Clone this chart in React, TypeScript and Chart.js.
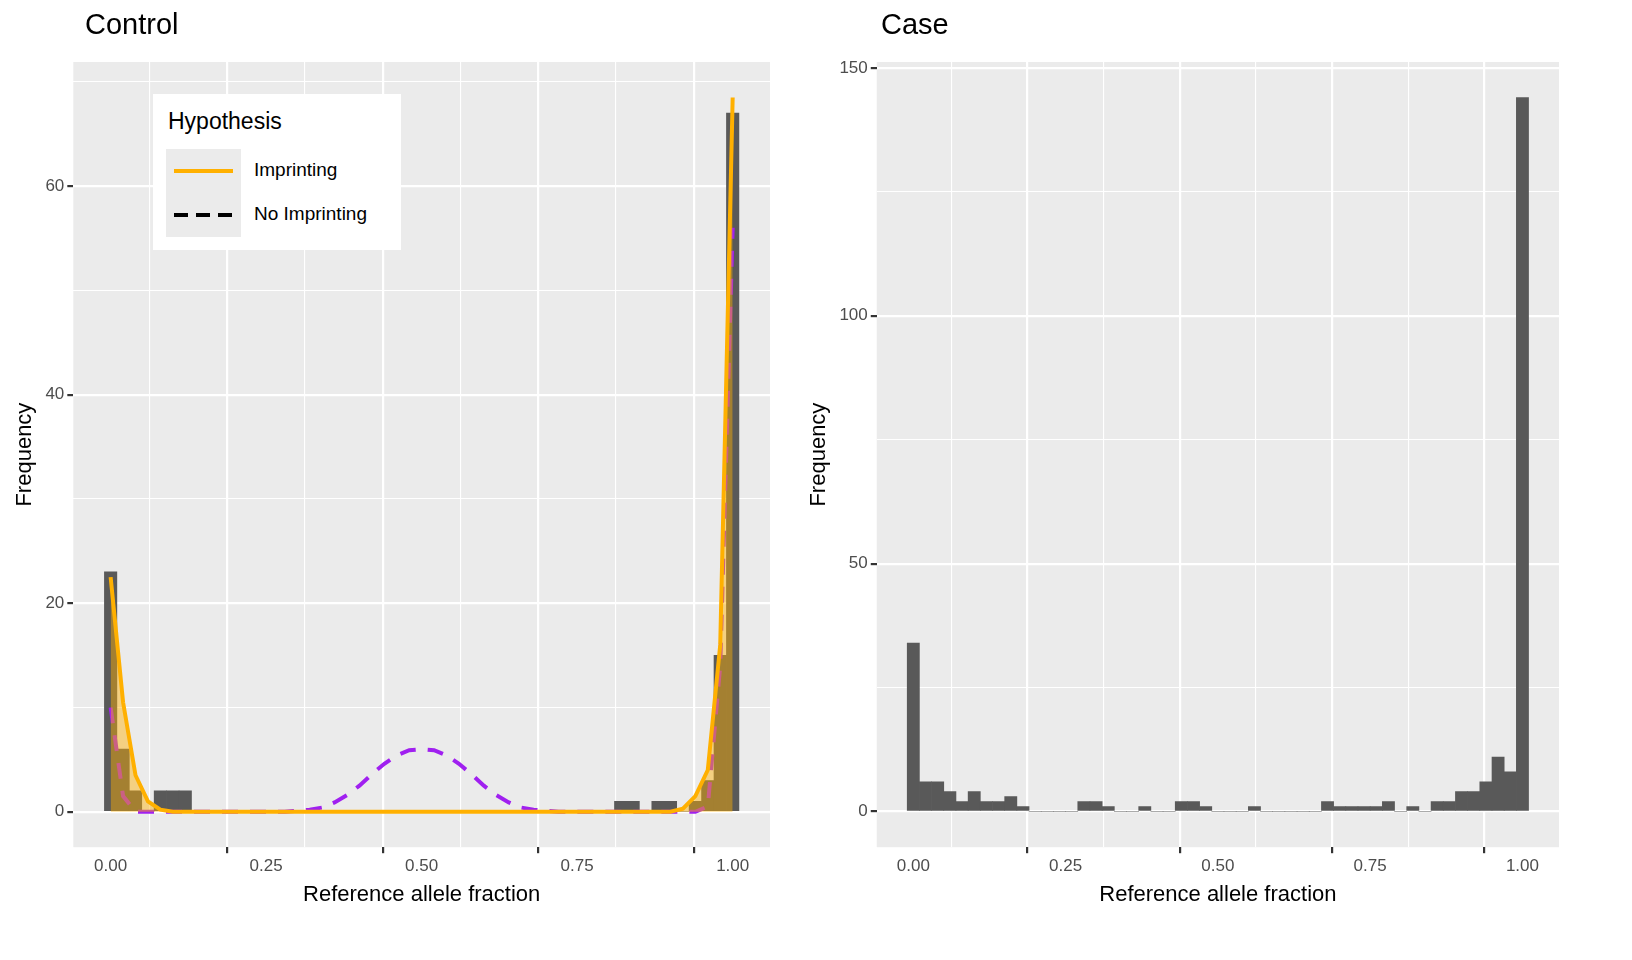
import React, { useEffect, useRef } from 'react';
import { Chart, registerables } from 'chart.js';

Chart.register(...registerables);

// bin centres, width 0.02
const bins: number[] = Array.from({ length: 51 }, (_, i) => Math.round(i * 2) / 100);

const controlCounts = [
  23, 6, 2, 0, 2, 2, 2, 0, 0, 0, 0, 0, 0, 0, 0, 0, 0, 0, 0, 0,
  0, 0, 0, 0, 0, 0, 0, 0, 0, 0, 0, 0, 0, 0, 0, 0, 0, 0, 0, 0,
  0, 1, 1, 0, 1, 1, 0, 1, 3, 15, 67,
];

const caseCounts = [
  34, 6, 6, 4, 2, 4, 2, 2, 3, 1, 0, 0, 0, 0, 2, 2, 1, 0, 0, 1,
  0, 0, 2, 2, 1, 0, 0, 0, 1, 0, 0, 0, 0, 0, 2, 1, 1, 1, 1, 2,
  0, 1, 0, 2, 2, 4, 4, 6, 11, 8, 144,
];

const imprinting = [
  22.5, 10.5, 3.5, 1, 0.2, 0, 0, 0, 0, 0, 0, 0, 0, 0, 0, 0, 0, 0, 0, 0,
  0, 0, 0, 0, 0, 0, 0, 0, 0, 0, 0, 0, 0, 0, 0, 0, 0, 0, 0, 0,
  0, 0, 0, 0, 0, 0, 0.3, 1.5, 4, 16, 68.5,
];

const noImprinting = [
  10, 1.5, 0, 0, 0, 0, 0, 0, 0, 0, 0, 0, 0, 0, 0, 0.1, 0.2, 0.4, 0.9, 1.6,
  2.5, 3.6, 4.6, 5.4, 5.9, 6, 5.9, 5.4, 4.6, 3.6, 2.5, 1.6, 0.9, 0.4, 0.2, 0.1,
  0, 0, 0, 0, 0, 0, 0, 0, 0, 0, 0, 0, 0.5, 14, 56,
];

const xTicks = ['0.00', '0.25', '0.50', '0.75', '1.00'];

const FONT = 'Arial, "Liberation Sans", sans-serif';
const pts = (ys: number[]) => bins.map((x, i) => ({ x, y: ys[i] }));

const bgPlugin = {
  id: 'panelBg',
  beforeDraw(chart: Chart) {
    const { ctx, chartArea: a } = chart;
    ctx.save();
    ctx.fillStyle = '#EBEBEB';
    ctx.fillRect(a.left, a.top, a.right - a.left, a.bottom - a.top);
    ctx.restore();
  },
};

function makeOptions(yMin: number, yMax: number, yStep: number, major: number) {
  const isMajorX = (v: any) => typeof v === 'number' && Math.abs(v * 4 - Math.round(v * 4)) < 1e-6;
  const isMajorY = (v: any) => typeof v === 'number' && Math.abs(v / major - Math.round(v / major)) < 1e-6;
  const tv = (c: any) => (c && c.tick ? c.tick.value : undefined);
  return {
    animation: false,
    responsive: false,
    layout: { padding: { top: 62, right: 10, left: 8, bottom: 8 } },
    plugins: { legend: { display: false }, tooltip: { enabled: false } },
    scales: {
      x: {
        type: 'linear',
        min: -0.06,
        max: 1.06,
        offset: false,
        afterBuildTicks: (s: any) => {
          s.ticks = [0, 0.125, 0.25, 0.375, 0.5, 0.625, 0.75, 0.875, 1].map((v) => ({ value: v }));
        },
        ticks: {
          autoSkip: false,
          maxRotation: 0,
          color: '#4D4D4D',
          font: { family: FONT, size: 17 },
          callback: (v: number) => (isMajorX(v) ? xTicks[Math.round(v * 4)] : ''),
        },
        grid: {
          color: '#FFFFFF',
          lineWidth: (c: any) => (isMajorX(tv(c)) ? 2.2 : 1.1),
          tickColor: (c: any) => (isMajorX(tv(c)) ? '#333333' : 'rgba(0,0,0,0)'),
          tickLength: 6,
        },
        border: { display: false },
        title: { display: true, text: 'Reference allele fraction', color: '#000', font: { family: FONT, size: 22 }, padding: { top: 2 } },
      },
      y: {
        type: 'linear',
        min: yMin,
        max: yMax,
        afterBuildTicks: (s: any) => {
          const t = [];
          for (let v = 0; v <= yMax; v += yStep) t.push({ value: v });
          s.ticks = t;
        },
        ticks: {
          autoSkip: false,
          color: '#4D4D4D',
          font: { family: FONT, size: 17 },
          callback: (v: number) => (isMajorY(v) ? String(v) : ''),
        },
        grid: {
          color: '#FFFFFF',
          lineWidth: (c: any) => (isMajorY(tv(c)) ? 2.2 : 1.1),
          tickColor: (c: any) => (isMajorY(tv(c)) ? '#333333' : 'rgba(0,0,0,0)'),
          tickLength: 6,
        },
        border: { display: false },
        title: { display: true, text: 'Frequency', color: '#000', font: { family: FONT, size: 22 } },
      },
    },
  } as any;
}

const Panel: React.FC<{ title: string; control: boolean; width: number; left: number }> = ({ title, control, width, left }) => {
  const ref = useRef<HTMLCanvasElement | null>(null);
  useEffect(() => {
    if (!ref.current) return;
    const datasets: any[] = [
      {
        type: 'bar',
        data: pts(control ? controlCounts : caseCounts),
        backgroundColor: '#595959',
        barPercentage: 1,
        categoryPercentage: 1,
        order: 3,
      },
    ];
    if (control) {
      datasets.push(
        {
          type: 'line',
          data: pts(imprinting),
          borderColor: '#FFB000',
          backgroundColor: 'rgba(255,176,0,0.45)',
          fill: 'origin',
          borderWidth: 4,
          pointRadius: 0,
          tension: 0,
          order: 1,
        },
        {
          type: 'line',
          data: pts(noImprinting),
          borderColor: '#A020F0',
          borderDash: [16, 12],
          fill: false,
          borderWidth: 4,
          pointRadius: 0,
          tension: 0,
          order: 2,
        },
      );
    }
    const chart = new Chart(ref.current, {
      type: 'bar',
      data: { datasets },
      options: control ? makeOptions(-3.4, 71.9, 10, 20) : makeOptions(-7.2, 151.2, 25, 50),
      plugins: [bgPlugin],
    } as any);
    return () => chart.destroy();
  }, [control]);
  return (
    <div style={{ position: 'absolute', left, top: 0, width, height: 920 }}>
      <canvas ref={ref} width={width} height={920} style={{ width, height: 920 }} />
      <div style={{ position: 'absolute', left: control ? 85 : 87, top: 8, fontFamily: FONT, fontSize: 29 }}>{title}</div>
      {control && (
        <div style={{ position: 'absolute', left: 153, top: 94, width: 248, height: 156, background: '#fff', fontFamily: FONT }}>
          <div style={{ position: 'absolute', left: 15, top: 14, fontSize: 23 }}>Hypothesis</div>
          <div style={{ position: 'absolute', left: 13, top: 55, width: 75, height: 88, background: '#EBEBEB' }} />
          <svg style={{ position: 'absolute', left: 13, top: 55 }} width={75} height={88}>
            <line x1={8} x2={67} y1={22} y2={22} stroke="#FFB000" strokeWidth={4} />
            <line x1={8} x2={67} y1={66} y2={66} stroke="#000" strokeWidth={4} strokeDasharray="14 8" />
          </svg>
          <div style={{ position: 'absolute', left: 101, top: 65, fontSize: 19 }}>Imprinting</div>
          <div style={{ position: 'absolute', left: 101, top: 109, fontSize: 19 }}>No Imprinting</div>
        </div>
      )}
    </div>
  );
};

const App: React.FC = () => (
  <div style={{ position: 'fixed', left: 0, top: 0, width: 1632, height: 960, background: '#fff' }}>
    <Panel title="Control" control={true} width={780} left={0} />
    <Panel title="Case" control={false} width={775} left={794} />
  </div>
);

export default App;
